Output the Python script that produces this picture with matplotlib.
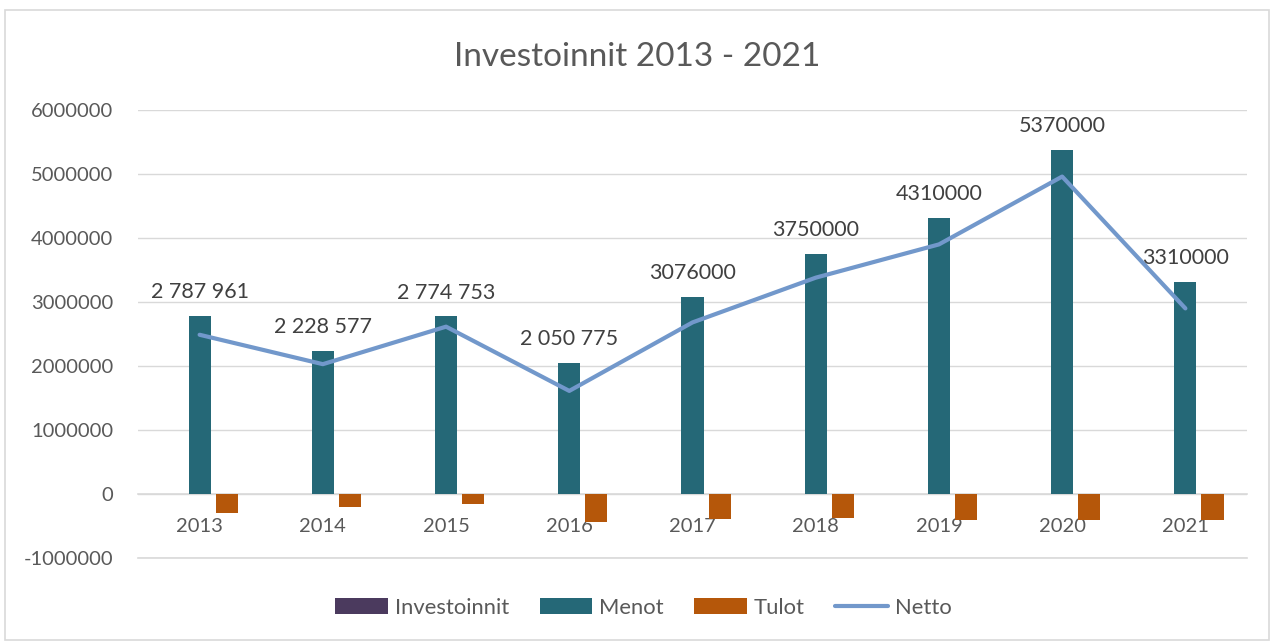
import matplotlib.pyplot as plt
import numpy as np
from matplotlib.patches import Rectangle

plt.rcParams['font.family'] = ['Lato', 'DejaVu Sans']

# data
years = ['2013', '2014', '2015', '2016', '2017', '2018', '2019', '2020', '2021']
investoinnit = [0, 0, 0, 0, 0, 0, 0, 0, 0]
menot = [2787961, 2228577, 2774753, 2050775, 3076000, 3750000, 4310000, 5370000, 3310000]
tulot = [-300000, -200000, -160000, -440000, -395000, -370000, -410000, -410000, -410000]
netto = [2487961, 2028577, 2614753, 1610775, 2681000, 3380000, 3900000, 4960000, 2900000]
menot_labels = ['2 787 961', '2 228 577', '2 774 753', '2 050 775', '3076000',
                '3750000', '4310000', '5370000', '3310000']

grey = '#595959'
c_inv = '#4b3a5e'
c_men = '#256877'
c_tul = '#b5570a'
c_net = '#7298cb'

fig = plt.figure(figsize=(12.74, 6.42), dpi=100)
fig.patches.append(Rectangle((5/1274, 2/642), 1264/1274, 630/642, transform=fig.transFigure,
                             fill=False, edgecolor='#d9d9d9', linewidth=1.2))
ax = fig.add_axes([138/1274, 1 - 558/642, 1109/1274, 448/642])

x = np.arange(len(years))
w = 0.18
off = 0.22
b_inv = ax.bar(x - off, investoinnit, w, color=c_inv, label='Investoinnit', zorder=3)
b_men = ax.bar(x, menot, w, color=c_men, label='Menot', zorder=3)
b_tul = ax.bar(x + off, tulot, w, color=c_tul, label='Tulot', zorder=3)
l_net, = ax.plot(x, netto, color=c_net, linewidth=3, label='Netto', zorder=4,
                 solid_capstyle='round', solid_joinstyle='round')

for xi, v, lab in zip(x, menot, menot_labels):
    ax.annotate(lab, (xi, v), xytext=(0, 10), textcoords='offset points',
                ha='center', va='bottom', fontsize=15.5, color='#404040', zorder=5)

ax.set_xlim(-0.5, len(years) - 0.5)
ax.set_ylim(-1000000, 6000000)
ax.set_yticks(np.arange(-1000000, 6000001, 1000000))
ax.set_yticklabels([str(int(t)) for t in ax.get_yticks()])
ax.grid(axis='y', color='#d9d9d9', linewidth=1, zorder=0)
ax.axhline(-1000000, color='#d9d9d9', linewidth=1.2, zorder=0, clip_on=False)

ax.set_xticks(x)
ax.set_xticklabels(years)
for s in ['top', 'right', 'left']:
    ax.spines[s].set_visible(False)
ax.spines['bottom'].set_position(('data', 0))
ax.spines['bottom'].set_color('#d9d9d9')
ax.spines['bottom'].set_linewidth(1.2)
ax.tick_params(axis='both', length=0, colors=grey, labelsize=14.5)
ax.tick_params(axis='y', pad=18)
ax.tick_params(axis='x', pad=17)

fig.text(0.5, 1 - 57/642, 'Investoinnit 2013 - 2021', ha='center', va='center',
         fontsize=24, color=grey)

fig.legend([b_inv, b_men, b_tul, l_net], ['Investoinnit', 'Menot', 'Tulot', 'Netto'],
           loc='center', bbox_to_anchor=(0.505, 1 - 608/642), ncol=4, frameon=False,
           fontsize=15.8, labelcolor=grey, handlelength=2.4, handleheight=0.75,
           columnspacing=1.4, handletextpad=0.3)

fig.savefig('out.png', dpi=100)
